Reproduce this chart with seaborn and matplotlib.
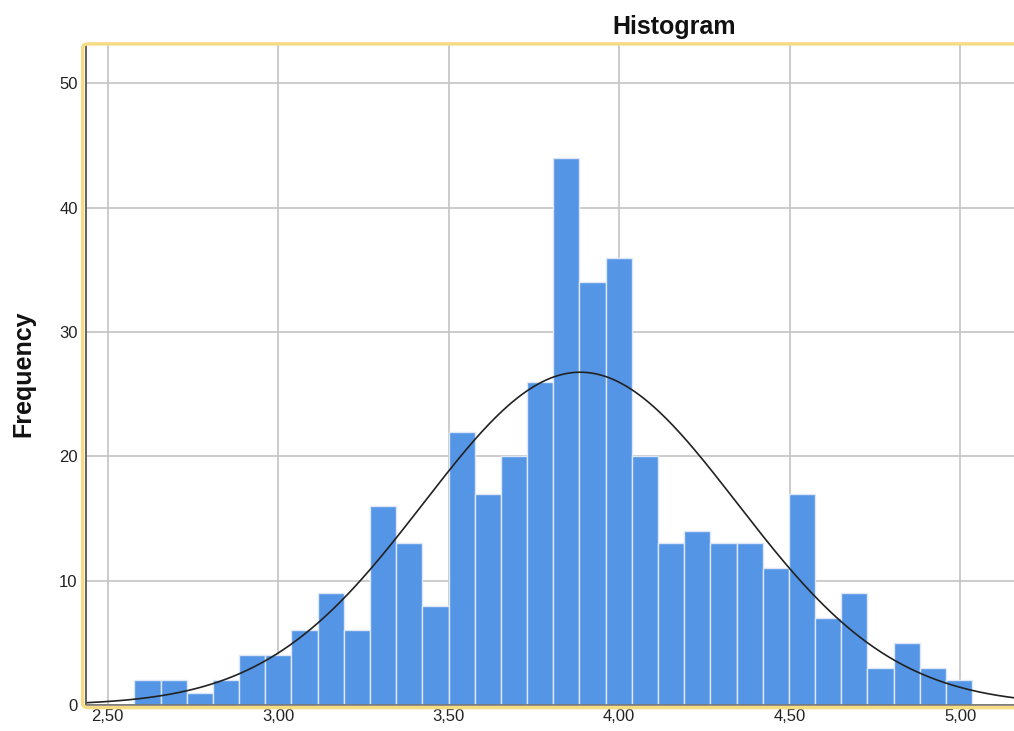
import numpy as np
import pandas as pd
import matplotlib.pyplot as plt
import seaborn as sns
from matplotlib.patches import FancyBboxPatch

# ヒストグラムの度数 (左から)
counts = [2, 2, 1, 2, 4, 4, 6, 9, 6, 16, 13, 8, 22, 17, 20, 26,
          44, 34, 36, 20, 13, 14, 13, 13, 11, 17, 7, 9, 3, 5, 3, 2]
bin_start = 2.578
bin_width = 0.0768
mean_val = 3.886
sd_val = 0.46
x_ticks = [2.5, 3.0, 3.5, 4.0, 4.5, 5.0]
x_ticklabels = ["2,50", "3,00", "3,50", "4,00", "4,50", "5,00"]
y_ticks = [0, 10, 20, 30, 40, 50]

bin_end = bin_start + bin_width * len(counts)
centers = bin_start + bin_width * (np.arange(len(counts)) + 0.5)
df = pd.DataFrame({"value": centers, "count": counts})

sns.set_style("white")
plt.rcParams['font.family'] = ['Liberation Sans', 'DejaVu Sans']

fig = plt.figure(figsize=(10.14, 7.31), dpi=100)
ax = fig.add_axes([0.0848, 0.0355, 0.9158, 0.903])

ax.set_axisbelow(True)
ax.grid(True, color="#c4c4c4", linewidth=1.2)

sns.histplot(data=df, x="value", weights="count", binwidth=bin_width,
             binrange=(bin_start, bin_end), ax=ax,
             color="#5595e5", alpha=1, edgecolor="#dce8f8", linewidth=1.0)

# 正規曲線
xs = np.linspace(2.43, 5.2, 400)
n = sum(counts)
ys = n * bin_width / (sd_val * np.sqrt(2 * np.pi)) * np.exp(-0.5 * ((xs - mean_val) / sd_val) ** 2)
sns.lineplot(x=xs, y=ys, ax=ax, color="#222222", linewidth=1.2)

ax.set_xlim(2.436, 5.16)
ax.set_ylim(0, 53.1)
ax.set_xticks(x_ticks)
ax.set_xticklabels(x_ticklabels, fontsize=12, color="#222222")
ax.set_yticks(y_ticks)
ax.set_yticklabels([str(v) for v in y_ticks], fontsize=12, color="#222222")
ax.tick_params(axis="y", length=0, pad=6)
ax.tick_params(axis="x", length=0, pad=3)
ax.set_xlabel("")
ax.set_ylabel("")

for s in ["top", "right"]:
    ax.spines[s].set_visible(False)
ax.spines["left"].set_color("#555555")
ax.spines["left"].set_linewidth(1.3)
ax.spines["bottom"].set_color("#777777")
ax.spines["bottom"].set_linewidth(1.3)

# SPSS風の黄色い枠
frame = FancyBboxPatch((0.0815, 0.032), 0.95, 0.908,
                       boxstyle="round,pad=0,rounding_size=0.006",
                       transform=fig.transFigure, fill=False,
                       edgecolor="#f7dc86", linewidth=2.5, clip_on=False)
fig.patches.append(frame)

fig.text(674 / 1014, 1 - 27 / 731, "Histogram", ha="center", va="center",
         fontsize=18, fontweight="bold", color="#111111")
fig.text(23 / 1014, 1 - 374 / 731, "Frequency", ha="center", va="center",
         rotation=90, fontsize=18, fontweight="bold", color="#111111")

fig.savefig("out.png", dpi=100)
